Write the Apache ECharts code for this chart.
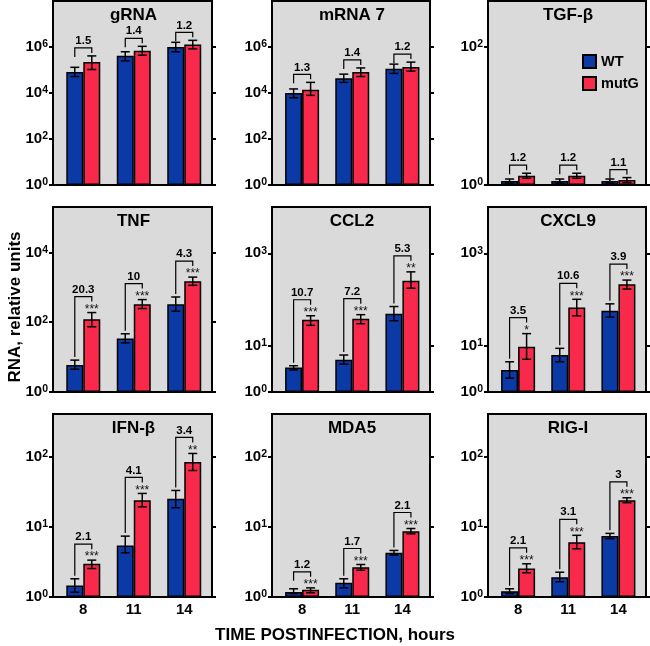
<!DOCTYPE html>
<html>
<head>
<meta charset="utf-8">
<script src="https://cdn.jsdelivr.net/npm/echarts@6/dist/echarts.min.js"></script>
<style>
  html, body { margin: 0; padding: 0; background: #fff; }
  #chart { width: 650px; height: 646px; }
</style>
</head>
<body>
<div id="chart"></div>
<script>
// panel order: row by row
const titles = ['gRNA', 'mRNA 7', 'TGF-\u03b2', 'TNF', 'CCL2', 'CXCL9', 'IFN-\u03b2', 'MDA5', 'RIG-I'];
const hours = ['8', '11', '14'];

const wtMean = [[8.1e4, 4.2e5, 1.0e6], [1.0e4, 4.4e4, 1.12e5], [1.14, 1.14, 1.14], [5.9, 34, 327], [3.4, 5.0, 49.4], [3.0, 6.3, 57], [1.46, 5.44, 25.3], [1.18, 1.6, 4.28], [1.21, 1.92, 7.4]];
const wtLow = [[5.2e4, 2.5e5, 6.2e5], [6.2e3, 2.9e4, 7.1e4], [1.06, 1.06, 1.06], [4.5, 25.6, 207], [3.0, 4.0, 34.8], [2.0, 4.5, 41.8], [1.17, 4.28, 18.8], [1.12, 1.35, 3.95], [1.12, 1.65, 6.8]];
const wtHigh = [[1.31e5, 6.2e5, 1.6e6], [1.5e4, 6.6e4, 1.8e5], [1.22, 1.22, 1.22], [8.2, 46.5, 528], [3.7, 6.3, 70.5], [4.5, 8.8, 80.5], [1.82, 7.4, 33.2], [1.31, 1.82, 4.62], [1.31, 2.26, 8.1]];

const mutMean = [[2.2e5, 6.8e5, 1.27e6], [1.4e4, 8.2e4, 1.35e5], [1.36, 1.36, 1.18], [122, 327, 1480], [36.6, 38.4, 253], [9.5, 67, 213], [2.98, 24.1, 84.3], [1.27, 2.67, 8.7], [2.55, 6.07, 24.1]];
const mutLow = [[1.05e5, 4.4e5, 8.3e5], [7.9e3, 5.2e4, 8.9e4], [1.25, 1.25, 1.08], [74, 246, 1140], [27.6, 30, 175], [5.1, 44.5, 168], [2.55, 19.4, 64], [1.15, 2.41, 8.0], [2.22, 4.88, 22.2]];
const mutHigh = [[4.1e5, 1.07e6, 1.95e6], [2.9e4, 1.23e5, 2.2e5], [1.48, 1.48, 1.28], [189, 445, 1960], [44.5, 47, 396], [18.3, 101, 263], [3.36, 30.1, 112], [1.35, 2.91, 9.5], [2.98, 7.6, 26.1]];

const foldChange = [['1.5', '1.4', '1.2'], ['1.3', '1.4', '1.2'], ['1.2', '1.2', '1.1'], ['20.3', '10', '4.3'], ['10.7', '7.2', '5.3'], ['3.5', '10.6', '3.9'], ['2.1', '4.1', '3.4'], ['1.2', '1.7', '2.1'], ['2.1', '3.1', '3']];
const stars = [['', '', ''], ['', '', ''], ['', '', ''], ['***', '***', '***'], ['***', '***', '**'], ['*', '***', '***'], ['***', '***', '**'], ['***', '***', '***'], ['***', '***', '***']];

const axisMax = [1e8, 1e8, 457, 2e5, 1e4, 1e4, 410, 410, 410];
const axisTicks = [[1, 1e2, 1e4, 1e6], [1, 1e2, 1e4, 1e6], [1, 1e2], [1, 1e2, 1e4], [1, 10, 1e3], [1, 10, 1e3], [1, 10, 1e2], [1, 10, 1e2], [1, 10, 1e2]];

const FONT = '"Liberation Sans", Arial, Helvetica, sans-serif';
const BLUE = '#0b3aa6';
const RED = '#f8294b';
const PANEL_BG = '#dadada';
const BAR_W = 17;

const colLeft = [53, 272, 488];
const colWidth = [159, 158, 158];
const rowTop = [1, 207, 414];
const rowHeight = [184, 185, 183];

const chart = echarts.init(document.getElementById('chart'), null, { renderer: 'canvas' });

function powerLabel(v) {
  return '{b|10}{s|' + Math.round(Math.log10(v)) + '}';
}

function errorBar(shift) {
  return function (params, api) {
    const top = api.coord([api.value(0), api.value(2)]);
    const bot = api.coord([api.value(0), api.value(1)]);
    const x = top[0] + shift, cap = 4.5;
    const style = { stroke: '#000', lineWidth: 1.5 };
    return {
      type: 'group',
      children: [
        { type: 'line', shape: { x1: x, y1: top[1], x2: x, y2: bot[1] }, style: style },
        { type: 'line', shape: { x1: x - cap, y1: top[1], x2: x + cap, y2: top[1] }, style: style },
        { type: 'line', shape: { x1: x - cap, y1: bot[1], x2: x + cap, y2: bot[1] }, style: style }
      ]
    };
  };
}

function bracket(p) {
  return function (params, api) {
    const i = params.dataIndex;
    const blue = api.coord([api.value(0), api.value(1)]);
    const red = api.coord([api.value(0), api.value(2)]);
    const bx = blue[0] - BAR_W / 2, rx = red[0] + BAR_W / 2;
    const star = stars[p][i];
    const by = red[1] - (star ? 16 : 8);
    const footL = (blue[1] - by > 25) ? blue[1] - 3 : by + 9;
    const kids = [
      { type: 'polyline', shape: { points: [[bx, footL], [bx, by], [rx, by], [rx, by + 5]] },
        style: { stroke: '#000', lineWidth: 1.2, fill: 'none' } },
      { type: 'text', x: (bx + rx) / 2, y: by - 1,
        style: { text: foldChange[p][i], font: 'bold 11.5px ' + FONT, fill: '#000',
                 align: 'center', verticalAlign: 'bottom', textAlign: 'center', textVerticalAlign: 'bottom' } }
    ];
    if (star) {
      kids.push({ type: 'text', x: rx, y: red[1] - 3,
        style: { text: star, font: '12px ' + FONT, fill: '#111',
                 align: 'center', verticalAlign: 'middle', textAlign: 'center', textVerticalAlign: 'middle' } });
    }
    return { type: 'group', children: kids };
  };
}

const grids = [], xAxes = [], yAxes = [], series = [], graphics = [];

for (let p = 0; p < 9; p++) {
  const r = Math.floor(p / 3), c = p % 3;
  grids.push({
    left: colLeft[c], top: rowTop[r], width: colWidth[c], height: rowHeight[r],
    show: true, backgroundColor: PANEL_BG, borderColor: '#000', borderWidth: 2
  });
  xAxes.push({
    gridIndex: p, type: 'value', min: -0.6, max: 2.55, position: 'bottom',
    axisLine: { show: false, onZero: false }, axisTick: { show: false }, splitLine: { show: false },
    axisLabel: {
      show: r === 2, customValues: [0, 1, 2], margin: 5,
      formatter: function (v) { return hours[Math.round(v)]; },
      fontFamily: FONT, fontWeight: 'bold', fontSize: 15, color: '#000'
    }
  });
  const tickStyle = { show: true, length: 4, inside: false, customValues: axisTicks[p], lineStyle: { color: '#000', width: 2 } };
  yAxes.push({
    gridIndex: p, type: 'log', logBase: 10, min: 1, max: axisMax[p], position: 'left',
    axisLine: { show: false, onZero: false }, splitLine: { show: false }, axisTick: tickStyle,
    axisLabel: {
      customValues: axisTicks[p], margin: 5, formatter: powerLabel,
      rich: {
        b: { fontFamily: FONT, fontWeight: 'bold', fontSize: 15, lineHeight: 16, color: '#000' },
        s: { fontFamily: FONT, fontWeight: 'bold', fontSize: 10.5, lineHeight: 10, verticalAlign: 'top', color: '#000' }
      }
    }
  });
  yAxes.push({
    gridIndex: p, type: 'log', logBase: 10, min: 1, max: axisMax[p], position: 'right',
    axisLine: { show: false, onZero: false }, splitLine: { show: false }, axisTick: tickStyle,
    axisLabel: { show: false }
  });

  const yi = 2 * p;
  series.push({
    type: 'bar', name: 'WT', xAxisIndex: p, yAxisIndex: yi, barWidth: BAR_W, barGap: '0%',
    data: wtMean[p].map(function (v, i) { return [i, v]; }),
    itemStyle: { color: BLUE, borderColor: '#000', borderWidth: 1.5 }, silent: true
  });
  series.push({
    type: 'bar', name: 'mutG', xAxisIndex: p, yAxisIndex: yi, barWidth: BAR_W, barGap: '0%',
    data: mutMean[p].map(function (v, i) { return [i, v]; }),
    itemStyle: { color: RED, borderColor: '#000', borderWidth: 1.5 }, silent: true
  });
  series.push({
    type: 'custom', xAxisIndex: p, yAxisIndex: yi, z: 5, silent: true,
    renderItem: errorBar(-BAR_W / 2),
    data: wtLow[p].map(function (lo, i) { return [i, lo, wtHigh[p][i]]; })
  });
  series.push({
    type: 'custom', xAxisIndex: p, yAxisIndex: yi, z: 5, silent: true,
    renderItem: errorBar(BAR_W / 2),
    data: mutLow[p].map(function (lo, i) { return [i, lo, mutHigh[p][i]]; })
  });
  series.push({
    type: 'custom', xAxisIndex: p, yAxisIndex: yi, z: 6, silent: true,
    renderItem: bracket(p),
    data: wtHigh[p].map(function (hi, i) { return [i, hi, mutHigh[p][i]]; })
  });

  graphics.push({
    type: 'text', x: colLeft[c] + colWidth[c] / 2 + 1, y: rowTop[r] + 14,
    style: { text: titles[p], font: 'bold 17px ' + FONT, fill: '#000',
             align: 'center', verticalAlign: 'middle', textAlign: 'center', textVerticalAlign: 'middle' }
  });
}

graphics.push({
  type: 'text', x: 15, y: 307, rotation: Math.PI / 2,
  style: { text: 'RNA, relative units', font: 'bold 17px ' + FONT, fill: '#000',
           align: 'center', verticalAlign: 'middle', textAlign: 'center', textVerticalAlign: 'middle' }
});
graphics.push({
  type: 'text', x: 335, y: 635,
  style: { text: 'TIME POSTINFECTION, hours', font: 'bold 17px ' + FONT, fill: '#000',
           align: 'center', verticalAlign: 'middle', textAlign: 'center', textVerticalAlign: 'middle' }
});

chart.setOption({
  animation: false,
  backgroundColor: '#fff',
  grid: grids,
  xAxis: xAxes,
  yAxis: yAxes,
  series: series,
  legend: {
    data: ['WT', 'mutG'], orient: 'vertical', left: 582, top: 54, padding: 0,
    itemWidth: 13, itemHeight: 13, itemGap: 7, icon: 'rect', selectedMode: false,
    textStyle: { fontFamily: FONT, fontWeight: 'bold', fontSize: 14.5, color: '#000' }
  },
  graphic: graphics
});
</script>
</body>
</html>
